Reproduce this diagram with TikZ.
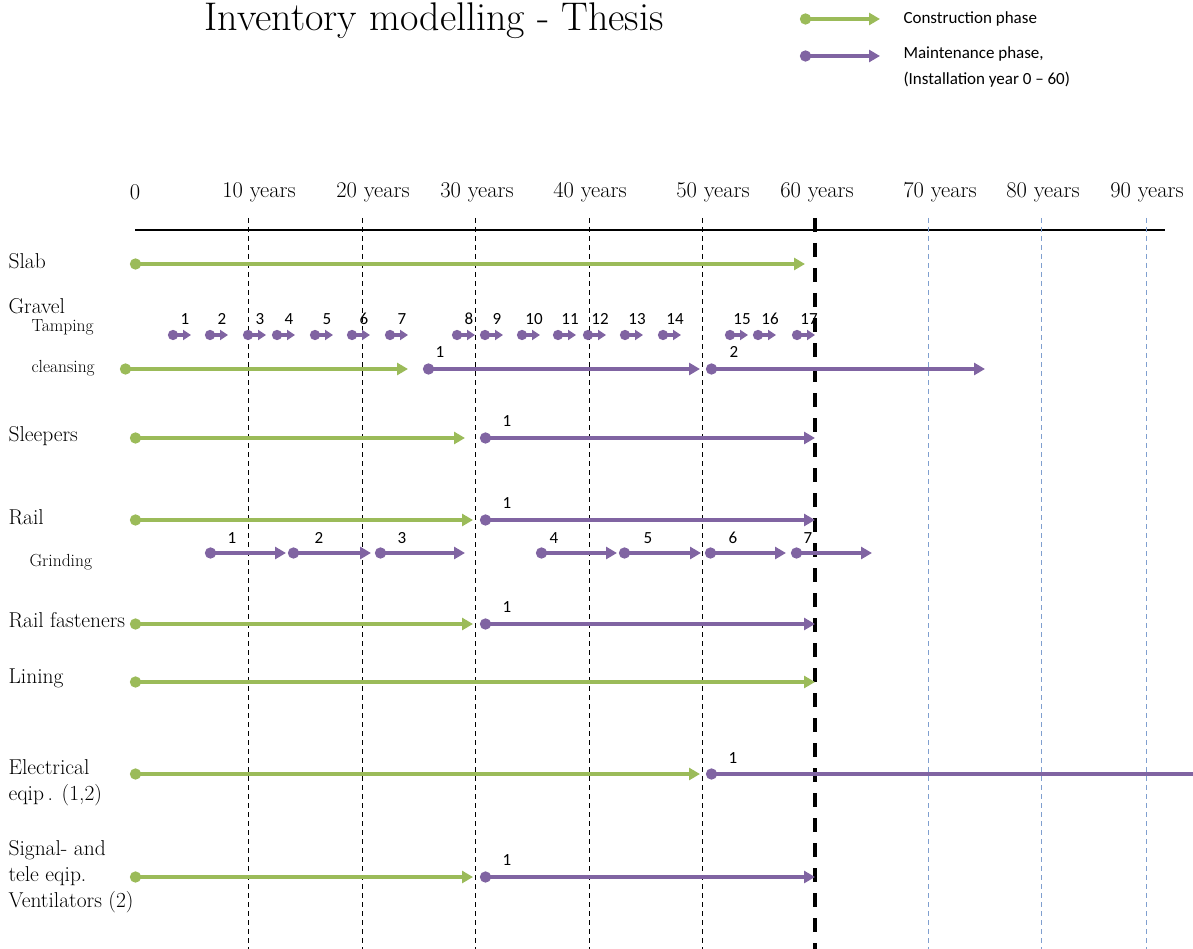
\documentclass[tikz,border=0pt]{standalone}
\usepackage{fontspec}
\newfontfamily\calibri{Carlito}
\usetikzlibrary{arrows.meta}
\definecolor{build}{HTML}{9BBB59}
\definecolor{upkeep}{HTML}{8064A2}
\definecolor{farline}{HTML}{7F9FCF}

\tikzset{
  buildarrow/.style={build,line width=4.5pt,{Circle[length=11pt]}-{Triangle[length=11pt,width=12pt]}},
  upkeeparrow/.style={upkeep,line width=4.5pt,{Circle[length=11pt]}-{Triangle[length=11pt,width=12pt]}},
  tamparrow/.style={upkeep,line width=4pt,{Circle[length=10pt]}-{Triangle[length=8pt,width=10pt]}},
  yearlbl/.style={font=\fontsize{22.5}{26}\selectfont},
  rowlbl/.style={anchor=west,align=left,font=\fontsize{21.5}{26}\selectfont},
  sublbl/.style={anchor=west,font=\fontsize{17.5}{20}\selectfont},
  countlbl/.style={font=\calibri\fontsize{17}{19}\selectfont}
}

\begin{document}
\begin{tikzpicture}[x=1pt,y=-1pt]
  \useasboundingbox (0,0) rectangle (1193,949);
  % title and legend
  \node[anchor=base,inner sep=0pt,font=\fontsize{40}{46}\selectfont] (title) at (434,31) {Inventory modelling - Thesis};
  \draw[buildarrow] (800,19) -- (880,19);
  \draw[upkeeparrow] (800,56) -- (880,56);
  \node[anchor=west,font=\calibri\fontsize{17}{20}\selectfont] (legbuild) at (900,19) {Construction phase};
  \node[anchor=west,font=\calibri\fontsize{17}{20}\selectfont] (legupkeep) at (900,54) {Maintenance phase,};
  \node[anchor=west,font=\calibri\fontsize{17}{20}\selectfont] (legyears) at (900,80) {(Installation year 0 – 60)};

  % year axis
  \draw[line width=1.2pt] (135,230) -- (1165,230);
  \node[yearlbl] (y0) at (135,192) {0};
  \foreach \yr/\lx in {10/259,20/373,30/477,40/590,50/713,60/817,70/940,80/1043,90/1147}
    \node[yearlbl] (y\yr) at (\lx,192) {\yr\ years};
  \foreach \gx in {248,362,475,589,702}
    \draw[line width=1pt,dash pattern=on 5pt off 4pt] (\gx,218) -- (\gx,949);
  \foreach \gx in {928,1041,1146}
    \draw[farline,line width=0.7pt,dash pattern=on 5pt off 4pt] (\gx,218) -- (\gx,949);
  \draw[line width=3.5pt,dash pattern=on 14pt off 11pt] (815,218) -- (815,949);

  % row names
  \foreach \rname/\ry [count=\ri] in {Slab/261,Gravel/306,Sleepers/436,Rail/517,Rail fasteners/620,Lining/678}
    \node[rowlbl] (row\ri) at (5,\ry) {\rname};
  \node[rowlbl] (row7) at (5,783) {Electrical\\eqip\,. (1,2)};
  \node[rowlbl] (row8) at (5,877) {Signal- and\\tele eqip.\\Ventilators (2)};
  \node[sublbl] (tamping) at (28,327) {Tamping};
  \node[sublbl] (cleansing) at (28,368) {cleansing};
  \node[sublbl] (grinding) at (26,562) {Grinding};

  % construction phase
  \foreach \xa/\xb/\yy in {130/805/264,120/408/369,130/465/438,130/473/520,
      130/473/624,130/815/682,130/700/774,130/473/877}
    \draw[buildarrow] (\xa,\yy) -- (\xb,\yy);

  % maintenance phase: start, end, row, label, label x
  \foreach \xa/\xb/\yy/\num/\lx in {423/700/369/1/440,706/985/369/2/734,480/815/438/1/507,
      480/815/520/1/507,480/815/624/1/507,480/815/877/1/507} {
    \draw[upkeeparrow] (\xa,\yy) -- (\xb,\yy);
    \node[countlbl] at (\lx,\yy-17) {\num};
  }
  \draw[upkeep,line width=4.5pt,{Circle[length=11pt]}-] (706,774) -- (1193,774);
  \node[countlbl] at (733,758) {1};

  % tamping
  \foreach \tx [count=\tn] in {173,210,248,277,315,352,390,457,485,522,558,588,625,663,730,758,797} {
    \draw[tamparrow] (\tx-5,335) -- (\tx+18,335);
    \node[countlbl] at (\tx+12,319) {\tn};
  }

  % grinding
  \foreach \gs/\ge/\lx [count=\gn] in {210/286/232,293/371/319,380/465/402,541/617/554,
      624/701/648,710/786/733,796/872/808} {
    \draw[upkeeparrow] (\gs-5,553) -- (\ge,553);
    \node[countlbl] at (\lx,538) {\gn};
  }
\end{tikzpicture}
\end{document}
